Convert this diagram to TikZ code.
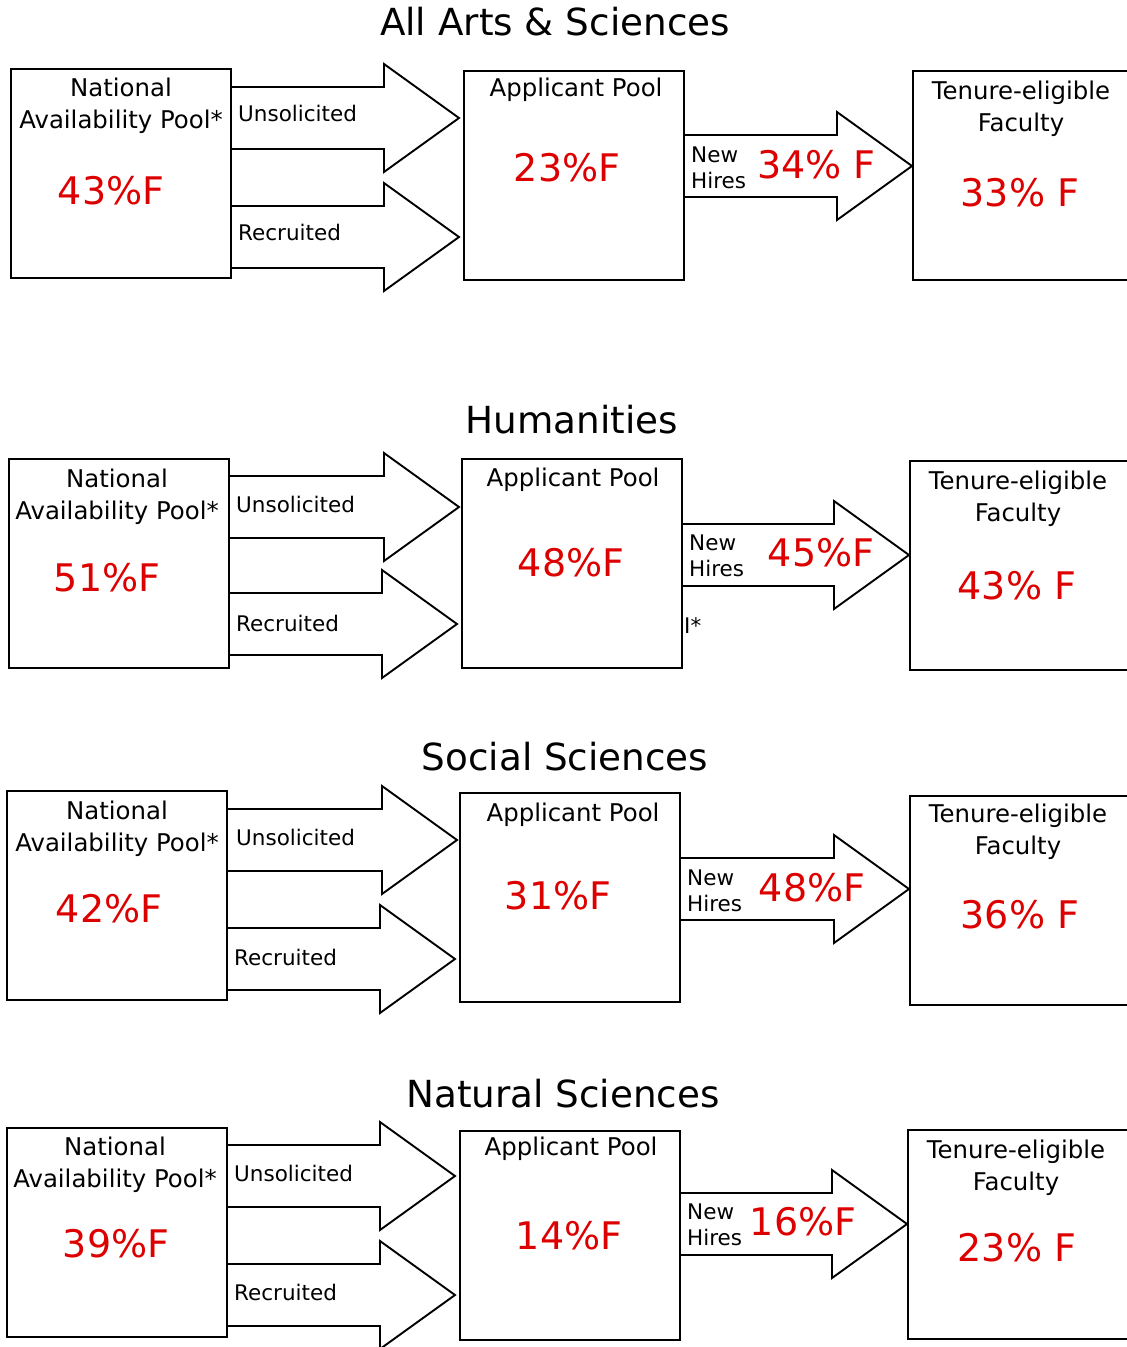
\documentclass[tikz,border=0pt]{standalone}
\usepackage{fontspec}
\setmainfont{DejaVu Sans}
\usetikzlibrary{calc}
\definecolor{femred}{RGB}{221,0,0}
% block arrow: #1 = start of shaft, #2 = tip
\newcommand{\fatarrow}[2]{%
  \draw[fat] ($(#1)+(0,-31)$) -- ($(#2)+(-75,-31)$) -- ++(0,-23) -- (#2)
     -- ($(#2)+(-75,54)$) -- ++(0,-23) -- ($(#1)+(0,31)$);}
\begin{document}
\begin{tikzpicture}[x=1pt,y=-1pt,
       box/.style={draw,line width=1.9pt,minimum width=220,minimum height=209,anchor=north west},
       fat/.style={line width=1.9pt},
       lbl/.style={align=center,inner sep=1pt,font=\fontsize{24.4}{32}\selectfont},
       small/.style={align=left,inner sep=1pt,anchor=west,font=\fontsize{21.5}{26}\selectfont},
       val/.style={inner sep=1pt,text=femred,font=\fontsize{38}{40}\selectfont},
       heading/.style={inner sep=1pt,font=\fontsize{37.3}{40}\selectfont}]
   \useasboundingbox (0,0) rectangle (1127,1347);
   \clip (0,0) rectangle (1127,1347);

   % All Arts & Sciences
   \node [heading] (t1) at (555,22) {All Arts \& Sciences};
   \node [box] (nap1) at (10,68) {};
   \node [lbl] (nap1l) at (121,106) {National\\Availability Pool*};
   \node [val] (nap1v) at (111,191) {43\%F};
   \coordinate (u1) at (459,118);
   \coordinate (r1) at (459,237);
   \fatarrow{nap1.east |- u1}{u1}
   \fatarrow{nap1.east |- r1}{r1}
   \node [small] (u1l) at (237,113) {Unsolicited};
   \node [small] (r1l) at (237,232) {Recruited};
   \node [box] (ap1) at (463,70) {};
   \node [lbl] (ap1l) at (576,90) {Applicant Pool};
   \node [val] (ap1v) at (567,168) {23\%F};
   \coordinate (h1) at (912,166);
   \fatarrow{ap1.east |- h1}{h1}
   \node [small] (h1l) at (690,168) {New\\Hires};
   \node [val,anchor=west] (h1v) at (756,165) {34\% F};
   \node [box] (ten1) at (912,70) {};
   \node [lbl] (ten1l) at (1021,109) {Tenure-eligible\\Faculty};
   \node [val] (ten1v) at (1020,193) {33\% F};

   % Humanities
   \node [heading] (t2) at (572,420) {Humanities};
   \node [box] (nap2) at (8,458) {};
   \node [lbl] (nap2l) at (117,497) {National\\Availability Pool*};
   \node [val] (nap2v) at (107,578) {51\%F};
   \coordinate (u2) at (459,507);
   \coordinate (r2) at (457,624);
   \fatarrow{nap2.east |- u2}{u2}
   \fatarrow{nap2.east |- r2}{r2}
   \node [small] (u2l) at (235,504) {Unsolicited};
   \node [small] (r2l) at (235,623) {Recruited};
   \node [box] (ap2) at (461,458) {};
   \node [lbl] (ap2l) at (573,480) {Applicant Pool};
   \node [val] (ap2v) at (571,563) {48\%F};
   \node [small] (ap2n) at (683,626) {I*};
   \coordinate (h2) at (909,555);
   \fatarrow{ap2.east |- h2}{h2}
   \node [small] (h2l) at (688,556) {New\\Hires};
   \node [val] (h2v) at (821,553) {45\%F};
   \node [box] (ten2) at (909,460) {};
   \node [lbl] (ten2l) at (1018,499) {Tenure-eligible\\Faculty};
   \node [val] (ten2v) at (1017,586) {43\% F};

   % Social Sciences
   \node [heading] (t3) at (565,757) {Social Sciences};
   \node [box] (nap3) at (6,790) {};
   \node [lbl] (nap3l) at (117,829) {National\\Availability Pool*};
   \node [val] (nap3v) at (109,909) {42\%F};
   \coordinate (u3) at (457,840);
   \coordinate (r3) at (455,959);
   \fatarrow{nap3.east |- u3}{u3}
   \fatarrow{nap3.east |- r3}{r3}
   \node [small] (u3l) at (235,837) {Unsolicited};
   \node [small] (r3l) at (233,957) {Recruited};
   \node [box] (ap3) at (459,792) {};
   \node [lbl] (ap3l) at (573,815) {Applicant Pool};
   \node [val] (ap3v) at (558,896) {31\%F};
   \coordinate (h3) at (909,889);
   \fatarrow{ap3.east |- h3}{h3}
   \node [small] (h3l) at (686,891) {New\\Hires};
   \node [val] (h3v) at (812,888) {48\%F};
   \node [box] (ten3) at (909,795) {};
   \node [lbl] (ten3l) at (1018,832) {Tenure-eligible\\Faculty};
   \node [val] (ten3v) at (1020,915) {36\% F};

   % Natural Sciences
   \node [heading] (t4) at (563,1094) {Natural Sciences};
   \node [box] (nap4) at (6,1127) {};
   \node [lbl] (nap4l) at (115,1165) {National\\Availability Pool*};
   \node [val] (nap4v) at (116,1244) {39\%F};
   \coordinate (u4) at (455,1176);
   \coordinate (r4) at (455,1295);
   \fatarrow{nap4.east |- u4}{u4}
   \fatarrow{nap4.east |- r4}{r4}
   \node [small] (u4l) at (233,1173) {Unsolicited};
   \node [small] (r4l) at (233,1292) {Recruited};
   \node [box] (ap4) at (459,1130) {};
   \node [lbl] (ap4l) at (571,1149) {Applicant Pool};
   \node [val] (ap4v) at (569,1236) {14\%F};
   \coordinate (h4) at (907,1224);
   \fatarrow{ap4.east |- h4}{h4}
   \node [small] (h4l) at (686,1225) {New\\Hires};
   \node [val] (h4v) at (803,1222) {16\%F};
   \node [box] (ten4) at (907,1129) {};
   \node [lbl] (ten4l) at (1016,1168) {Tenure-eligible\\Faculty};
   \node [val] (ten4v) at (1017,1248) {23\% F};
\end{tikzpicture}
\end{document}
